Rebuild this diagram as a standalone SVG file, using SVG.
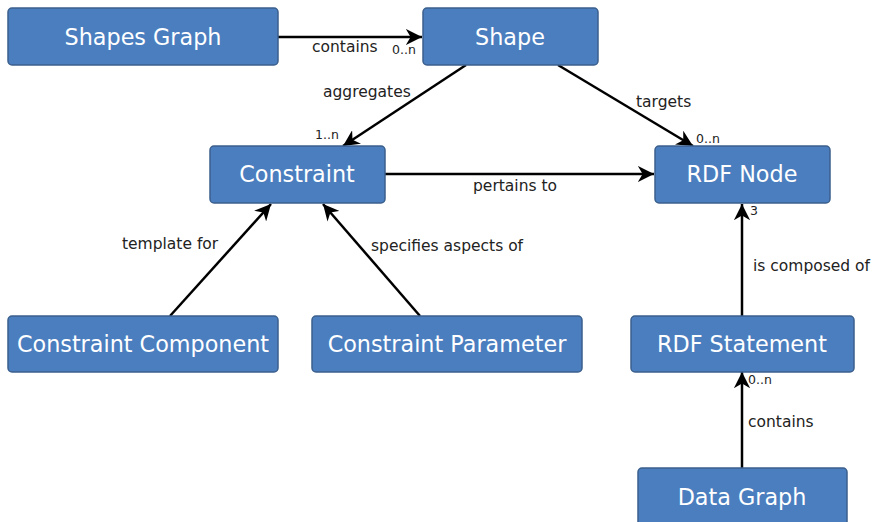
<svg xmlns="http://www.w3.org/2000/svg" width="874" height="522" viewBox="0 0 874 522">
<style>
.node rect{fill:#4a7ebf;stroke:#3b5f8c;stroke-width:1.5}
.node text{fill:#ffffff;font-family:"DejaVu Sans",sans-serif;font-size:22.3px;text-anchor:middle;dominant-baseline:central}
.edge line{stroke:#000;stroke-width:2.5;marker-end:url(#ah)}
.lbl{fill:#222;font-family:"DejaVu Sans",sans-serif;font-size:15.5px}
.card{fill:#222;font-family:"DejaVu Sans",sans-serif;font-size:12.5px}
</style>
<defs>
<marker id="ah" viewBox="0 0 10 10" refX="10" refY="5" markerWidth="6.5" markerHeight="6.5" markerUnits="strokeWidth" orient="auto">
<path d="M0,0 L10,5 L0,10 L3,5 z" fill="#000"/>
</marker>
</defs>
<rect width="874" height="522" fill="#fff"/>
<g id="connectors" class="edge">
<line x1="278" y1="37" x2="422" y2="37"/>
<line x1="466" y1="65" x2="343" y2="146"/>
<line x1="558" y1="65" x2="693" y2="146"/>
<line x1="385" y1="174" x2="654" y2="174"/>
<line x1="170" y1="316" x2="271" y2="204"/>
<line x1="420" y1="316" x2="323" y2="204"/>
<line x1="742" y1="316" x2="742" y2="204"/>
<line x1="742" y1="468" x2="742" y2="372"/>
</g>
<g id="labels">
<text class="lbl" x="312" y="52">contains</text>
<text class="card" x="392" y="54">0..n</text>
<text class="lbl" x="323" y="97">aggregates</text>
<text class="card" x="315" y="139">1..n</text>
<text class="lbl" x="636" y="107">targets</text>
<text class="card" x="696" y="143">0..n</text>
<text class="lbl" x="473" y="191">pertains to</text>
<text class="lbl" x="122" y="249">template for</text>
<text class="lbl" x="371" y="251">specifies aspects of</text>
<text class="card" x="750" y="215">3</text>
<text class="lbl" x="753" y="271">is composed of</text>
<text class="card" x="748" y="384">0..n</text>
<text class="lbl" x="748" y="427">contains</text>
</g>
<g id="shapes-graph" class="node"><rect x="8" y="8" width="270" height="57" rx="4"/><text x="143" y="37">Shapes Graph</text></g>
<g id="shape" class="node"><rect x="423" y="8" width="175" height="57" rx="4"/><text x="510" y="37">Shape</text></g>
<g id="constraint" class="node"><rect x="210" y="146" width="175" height="57" rx="4"/><text x="297" y="174">Constraint</text></g>
<g id="rdf-node" class="node"><rect x="655" y="146" width="175" height="57" rx="4"/><text x="742" y="174">RDF Node</text></g>
<g id="constraint-component" class="node"><rect x="8" y="316" width="270" height="56" rx="4"/><text x="143" y="344">Constraint Component</text></g>
<g id="constraint-parameter" class="node"><rect x="312" y="316" width="270" height="56" rx="4"/><text x="447" y="344">Constraint Parameter</text></g>
<g id="rdf-statement" class="node"><rect x="631" y="316" width="223" height="56" rx="4"/><text x="742" y="344">RDF Statement</text></g>
<g id="data-graph" class="node"><rect x="638" y="468" width="209" height="58" rx="4"/><text x="742" y="497">Data Graph</text></g>
</svg>
